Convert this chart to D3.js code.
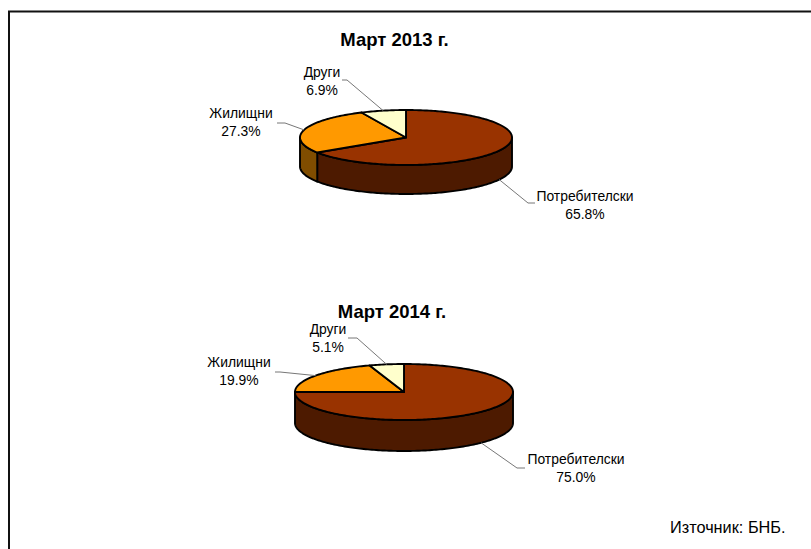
<!DOCTYPE html>
<html>
<head>
<meta charset="utf-8">
<script src="https://cdn.jsdelivr.net/npm/d3@7"></script>
<style>
    html, body { margin: 0; padding: 0; background: #fff; overflow: hidden; }
    svg { display: block; }
    text { font-family: "Liberation Sans", Arial, sans-serif; fill: #000; }
    .title { font-size: 18.5px; font-weight: bold; text-anchor: middle; }
    .label { font-size: 13.9px; text-anchor: middle; }
    .leader { fill: none; stroke: #777; stroke-width: 1; }
    .top, .side { stroke: #000; stroke-width: 1.9; stroke-linejoin: round; }
</style>
</head>
<body>
<svg id="chart" width="811" height="549"></svg>
<script>
/*** DATA ***/
const categories = ["Потребителски", "Жилищни", "Други"];
const values_2013 = [65.8, 27.3, 6.9];
const values_2014 = [75.0, 19.9, 5.1];
const titles = ["Март 2013 г.", "Март 2014 г."];
const source_text = "Източник: БНБ.";

const top_colors = ["#993300", "#ff9900", "#ffffcc"];
const side_colors = ["#4d1a00", "#804d00", "#80806a"];

// layout of the two pies; label = centre of the text, elbow = bend of the leader line
const pies = [
    {
        values: values_2013, title: titles[0], title_x: 394.5, title_y: 46,
        cx: 406, cy: 137.5, rx: 106, ry: 27.5, depth: 29,
        labels: [
            {x: 585, y: 201, elbow: [528, 203], end: [535, 203]},
            {x: 241, y: 118, elbow: [285, 123], end: [277, 123]},
            {x: 322, y: 77, elbow: [347, 80], end: [342, 80]}
        ]
    },
    {
        values: values_2014, title: titles[1], title_x: 392, title_y: 318,
        cx: 404, cy: 392, rx: 109, ry: 28, depth: 31,
        labels: [
            {x: 576, y: 464, elbow: [517, 468], end: [525, 468]},
            {x: 239, y: 367, elbow: [280, 372], end: [275, 372]},
            {x: 328, y: 334, elbow: [357, 338], end: [348, 338]}
        ]
    }
];

let svg = d3.select("#chart");

/*** HELPERS ***/
let pie_layout = d3.pie().sort(null).startAngle(0).endAngle(2 * Math.PI);
let line = d3.line();

// points along the rim between two angles (0 = 12 o'clock, clockwise)
function rim_points(a0, a1, x, y, offset) {
    let n = Math.max(2, Math.ceil(Math.abs(a1 - a0) / 0.02));
    return d3.range(n + 1).map((i) => {
        let a = a0 + (a1 - a0) * i / n;
        return [x(Math.sin(a)), y(-Math.cos(a)) + offset];
    });
}

function render_pie(p) {
    let x = d3.scaleLinear().domain([-1, 1]).range([p.cx - p.rx, p.cx + p.rx]),
        y = d3.scaleLinear().domain([-1, 1]).range([p.cy - p.ry, p.cy + p.ry]);
    let slices = pie_layout(p.values);

    // front wall: only the part of each slice between 3 and 9 o'clock shows
    slices.forEach((s, i) => {
        let a0 = Math.max(s.startAngle, Math.PI / 2),
            a1 = Math.min(s.endAngle, 3 * Math.PI / 2);
        if (a1 <= a0) return;
        let pts = rim_points(a0, a1, x, y, 0)
            .concat(rim_points(a1, a0, x, y, p.depth));
        svg.append("path").classed("side", true)
            .attr("d", line(pts) + "Z")
            .attr("fill", side_colors[i]);
    });

    // top face
    slices.forEach((s, i) => {
        let pts = [[x(0), y(0)]].concat(rim_points(s.startAngle, s.endAngle, x, y, 0));
        svg.append("path").classed("top", true)
            .attr("d", line(pts) + "Z")
            .attr("fill", top_colors[i]);
    });

    // leader lines start on the rim at the middle of the slice
    slices.forEach((s, i) => {
        let mid = (s.startAngle + s.endAngle) / 2,
            front = mid > Math.PI / 2 && mid < 3 * Math.PI / 2,
            start = [x(Math.sin(mid)), y(-Math.cos(mid)) + (front ? p.depth : 0)],
            l = p.labels[i];
        svg.append("path").classed("leader", true)
            .attr("d", line([start, l.elbow, l.end]));

        svg.append("text").classed("label", true)
            .attr("x", l.x).attr("y", l.y).text(categories[i]);
        svg.append("text").classed("label", true)
            .attr("x", l.x).attr("y", l.y + 18).text(d3.format(".1f")(p.values[i]) + "%");
    });

    svg.append("text").classed("title", true)
        .attr("x", p.title_x).attr("y", p.title_y).text(p.title);
}

/*** DRAW ***/
// frame: open on the right and at the bottom
svg.append("path")
    .attr("d", "M9,549V11.5H811")
    .attr("fill", "none")
    .attr("stroke", "#111")
    .attr("stroke-width", 2);

pies.forEach(render_pie);

svg.append("text")
    .attr("x", 670).attr("y", 533)
    .style("font-size", "16.3px")
    .text(source_text);
</script>
</body>
</html>
